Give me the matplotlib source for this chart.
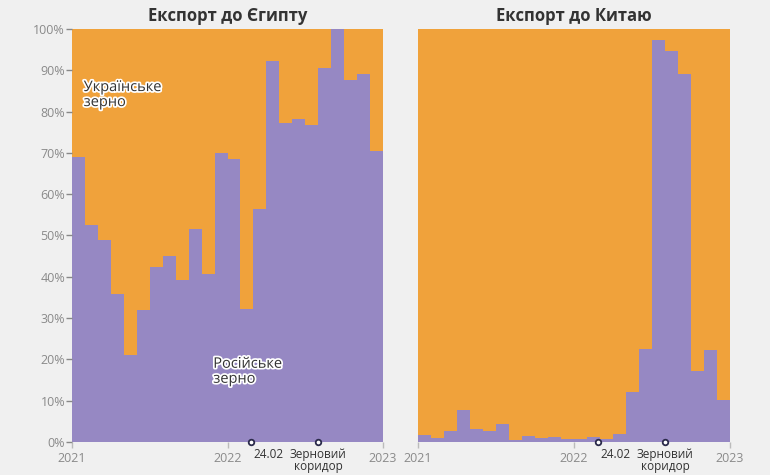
import numpy as np
import matplotlib.pyplot as plt
import matplotlib.patheffects as pe

# Monthly share of Russian grain in imports, Jan 2021 .. Dec 2022 (%)
months = np.arange(24)
egypt_russian = [69, 52.5, 49, 35.8, 21.1, 32, 42.4, 45.1, 39.3, 51.6, 40.7, 70,
                 68.5, 32.2, 56.4, 92.2, 77.2, 78.2, 76.8, 90.6, 100, 87.6, 89.2, 70.4]
china_russian = [1.8, 1, 2.7, 7.8, 3.1, 2.6, 4.4, 0.6, 1.5, 1, 1.2, 0.8,
                 0.8, 1.2, 0.8, 1.9, 12.1, 22.6, 97.4, 94.6, 89.2, 17.1, 22.3, 10.1]

titles = ["Експорт до Єгипту", "Експорт до Китаю"]
year_ticks = [0, 12, 24]
year_labels = ["2021", "2022", "2023"]
war_start = 12 + 1 + 23 / 28      # 24.02.2022
corridor = 12 + 7                 # серпень 2022

ORANGE = "#F0A23B"
PURPLE = "#9688C3"
BG = "#F0F0F0"
GREY = "#8A8A8A"

plt.rcParams["font.family"] = ["Open Sans", "DejaVu Sans"]

fig = plt.figure(figsize=(7.7, 4.75), dpi=100, facecolor=BG)
ax1 = fig.add_axes([0.0935, 0.0695, 0.404, 0.8695])
ax2 = fig.add_axes([0.543, 0.0695, 0.405, 0.8695])

halo = [pe.withStroke(linewidth=2.5, foreground="white")]

for ax, data, title in zip([ax1, ax2], [egypt_russian, china_russian], titles):
    data = np.array(data)
    ax.set_facecolor(BG)
    ax.bar(months, data, width=1.0, align="edge", color=PURPLE, linewidth=0)
    ax.bar(months, 100 - data, bottom=data, width=1.0, align="edge",
           color=ORANGE, linewidth=0)
    ax.set_xlim(0, 24)
    ax.set_ylim(0, 100)
    for s in ax.spines.values():
        s.set_visible(False)
    ax.set_xticks(year_ticks)
    ax.set_xticklabels(year_labels)
    ax.tick_params(axis="x", colors="#BBBBBB", labelcolor=GREY, labelsize=9,
                   length=4, width=1, pad=3)
    ax.set_title(title, fontsize=12, fontweight="bold", color="#333333", pad=6)

    # markers for events
    ax.plot([war_start, corridor], [0, 0], "o", ms=4, mfc="white",
            mec="#2A2A4A", mew=1.3, clip_on=False, zorder=5)
    ax.annotate("24.02", (war_start, 0), xytext=(2, -4), textcoords="offset points",
                ha="left", va="top", fontsize=8.5, color="#333333")
    ax.annotate("Зерновий\nкоридор", (corridor, 0), xytext=(0, -4),
                textcoords="offset points", ha="center", va="top", fontsize=8.5,
                color="#333333", linespacing=0.95)

ax1.set_yticks(np.arange(0, 101, 10))
ax1.set_yticklabels([f"{v}%" for v in range(0, 101, 10)])
ax1.tick_params(axis="y", colors="#888888", labelcolor=GREY, labelsize=9,
                length=4, width=1, pad=1)
ax2.set_yticks([])

ax1.text(0.9, 84, "Українське\nзерно", fontsize=10.5, color="#333333",
         ha="left", va="center", linespacing=1.0, path_effects=halo)
ax1.text(10.9, 17, "Російське\nзерно", fontsize=10.5, color="#333333",
         ha="left", va="center", linespacing=1.0, path_effects=halo)

fig.savefig("out.png", dpi=100, facecolor=BG)
